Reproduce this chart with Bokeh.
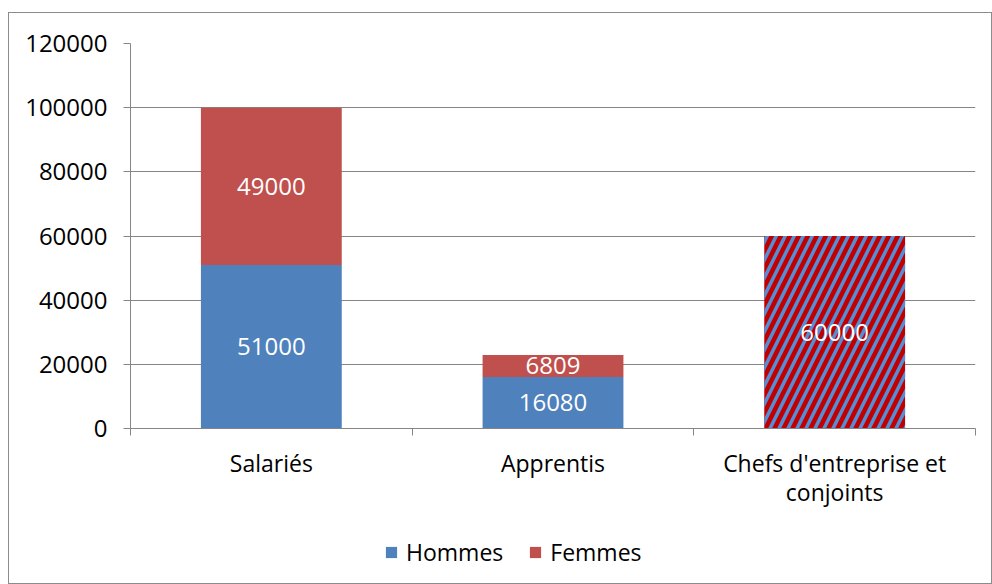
from bokeh.plotting import figure
from bokeh.layouts import column
from bokeh.models import (ColumnDataSource, FixedTicker, Legend, LegendItem,
                          Range1d, NumeralTickFormatter)
from bokeh.core.properties import value
from bokeh.embed import file_html
from bokeh.resources import INLINE

categories = ["Salariés", "Apprentis", "Chefs d'entreprise et\nconjoints"]
series = ["Hommes", "Femmes"]
hommes = [51000, 16080, 0]
femmes = [49000, 6809, 0]
chefs = [0, 0, 60000]
y_ticks = [0, 20000, 40000, 60000, 80000, 100000, 120000]

FONT = "Open Sans"
FS = "23px"
NFS = "24px"
BLUE = "#4F81BD"
RED = "#C0504D"
GRID = "#868686"

x = [i + 0.5 for i in range(len(categories))]
bounds = list(range(len(categories) + 1))
f_bottom = hommes
f_top = [h + f for h, f in zip(hommes, femmes)]

src = ColumnDataSource(dict(x=x, hommes=hommes, f_bottom=f_bottom, f_top=f_top, chefs=chefs))

p = figure(width=982, height=507, x_range=Range1d(0, len(categories)),
           y_range=Range1d(y_ticks[0], y_ticks[-1]),
           output_backend="svg", toolbar_location=None,
           min_border_left=121, min_border_right=16, min_border_top=30,
           min_border_bottom=92)
p.outline_line_color = None
p.xgrid.visible = False
p.ygrid.ticker = FixedTicker(ticks=y_ticks)
p.ygrid.grid_line_color = GRID
p.ygrid.grid_line_width = 1

r_h = p.vbar(x="x", top="hommes", bottom=0, width=0.5, source=src,
             fill_color=BLUE, line_color=None)
r_f = p.vbar(x="x", top="f_top", bottom="f_bottom", width=0.5, source=src,
             fill_color=RED, line_color=None)
r_c = p.vbar(x="x", top="chefs", bottom=0, width=0.5, source=src,
             fill_color="#C00000", line_color=None,
             hatch_pattern="/", hatch_color="#558ED5", hatch_scale=18, hatch_weight=3.5)

# data labels
lx, ly, lt = [], [], []
for i in range(len(categories)):
    if hommes[i]:
        lx.append(x[i]); ly.append(hommes[i] / 2); lt.append(str(hommes[i]))
    if femmes[i]:
        lx.append(x[i]); ly.append(hommes[i] + femmes[i] / 2); lt.append(str(femmes[i]))
    if chefs[i]:
        lx.append(x[i]); ly.append(chefs[i] / 2); lt.append(str(chefs[i]))
p.text(x=lx, y=ly, text=lt, text_color="white", text_align="center",
       text_baseline="middle", text_font=value(FONT), text_font_size=NFS)

# y axis
ya = p.yaxis[0]
ya.ticker = FixedTicker(ticks=y_ticks, minor_ticks=[])
ya.formatter = NumeralTickFormatter(format="0")
ya.axis_line_color = GRID
ya.major_tick_line_color = GRID
ya.major_tick_in = 0
ya.major_tick_out = 7
ya.minor_tick_line_color = None
ya.major_label_standoff = 16
ya.major_label_text_font = FONT
ya.major_label_text_font_size = NFS
ya.major_label_text_color = "black"

# x axis
xa = p.xaxis[0]
xa.ticker = FixedTicker(ticks=x, minor_ticks=bounds)
xa.major_label_overrides = {xi: c for xi, c in zip(x, categories)}
xa.axis_line_color = GRID
xa.major_tick_line_color = None
xa.minor_tick_line_color = GRID
xa.minor_tick_in = 0
xa.minor_tick_out = 7
xa.major_label_standoff = 11
xa.major_label_text_font = FONT
xa.major_label_text_font_size = FS
xa.major_label_text_line_height = 0.93
xa.major_label_text_color = "black"

# legend strip
lp = figure(width=982, height=63, x_range=Range1d(0, 1), y_range=Range1d(0, 1),
            output_backend="svg", toolbar_location=None,
            x_axis_type=None, y_axis_type=None, min_border=0)
lp.outline_line_color = None
lp.grid.visible = False
sw_h = lp.vbar(x=[-10], top=[0], width=0.1, fill_color=BLUE, line_color=None)
sw_f = lp.vbar(x=[-10], top=[0], width=0.1, fill_color=RED, line_color=None)
legend = Legend(items=[LegendItem(label=series[0], renderers=[sw_h]),
                       LegendItem(label=series[1], renderers=[sw_f])],
                orientation="horizontal", location=(254, 15),
                glyph_width=14, glyph_height=14, label_standoff=8, spacing=25,
                padding=0, margin=0, border_line_color=None,
                background_fill_alpha=0, label_text_font=FONT,
                label_text_font_size=FS, label_text_color="black")
lp.add_layout(legend, "center")

layout = column(p, lp, spacing=0)
layout.styles = {"border": "1px solid #8c8c8c", "margin-left": "8px", "margin-top": "12px"}

open("out.html", "w").write(file_html(layout, INLINE))
